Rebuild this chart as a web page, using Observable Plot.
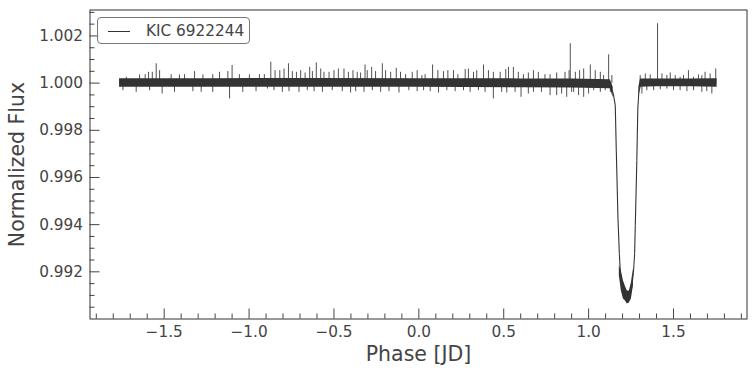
<!DOCTYPE html>
<html><head><meta charset="utf-8">
<script src="https://cdn.jsdelivr.net/npm/d3@7"></script>
<script src="https://cdn.jsdelivr.net/npm/@observablehq/plot@0.6"></script>
<style>
body{margin:0;background:#fff;}
#wrap{position:relative;width:756px;height:374px;font-family:"DejaVu Sans",sans-serif;}
#legend{position:absolute;left:97px;top:17px;width:153px;height:27px;box-sizing:border-box;border:1px solid #777;border-radius:4px;background:rgba(255,255,255,0.85);}
#legend .ln{position:absolute;left:10px;top:13px;width:22px;height:0;border-top:1px solid #333;}
#legend .tx{position:absolute;left:48px;top:4px;font-size:15.3px;color:#444;line-height:normal;white-space:nowrap;}
</style></head>
<body><div id="wrap"><div id="chart"></div><div id="legend"><div class="ln"></div><div class="tx" id="legtext"></div></div></div>
<script>
// ---- data ----
const seriesLabel = "KIC 6922244";
const xLabel = "Phase [JD]";
const yLabel = "Normalized Flux";

// dense noise core out of eclipse (two segments)
const bandSeg   = ["a","a","a","a","a","a","a","a", "b","b","b","b","b"];
const bandPhase = [-1.763,-1.2,-0.6,0.0,0.6,0.9,1.128,1.145, 1.296,1.305,1.4,1.6,1.757];
const bandHi    = [1.00019,1.00019,1.00020,1.00019,1.00018,1.00017,1.00014,0.99982, 0.99982,1.00018,1.00018,1.00018,1.00019];
const bandLo    = [0.99982,0.99982,0.99983,0.99982,0.99980,0.99979,0.99976,0.99938, 0.99938,0.99983,0.99985,0.99985,0.99983];

// eclipse centre line
const eclPhase = [1.098,1.128,1.145,1.157,1.163,1.173,1.181,1.187,1.199,1.216,1.228,1.240,1.252,1.264,1.271,1.275,1.284,1.290,1.296,1.305,1.334];
const eclFlux  = [1.0000,0.99987,0.99957,0.99906,0.99715,0.99426,0.99277,0.99196,0.99140,0.99098,0.99077,0.99085,0.99128,0.99196,0.99277,0.99396,0.99672,0.99894,0.99962,0.99991,1.0000];

// eclipse bottom scatter
const btmPhase = [1.181,1.193,1.205,1.216,1.228,1.240,1.252,1.264];
const btmHi    = [0.99226,0.99204,0.99162,0.99140,0.99119,0.99119,0.99153,0.99213];
const btmLo    = [0.99183,0.99119,0.99085,0.99077,0.99064,0.99068,0.99085,0.99140];

// individual spikes (phase, tip flux)
const spikePhase = [
-1.723,-1.645,-1.612,-1.592,-1.570,-1.547,-1.527,-1.459,-1.410,-1.380,-1.321,-1.272,-1.214,-1.174,-1.125,-1.100,-1.057,-0.998,-0.939,-0.910,
-0.872,-0.847,-0.819,-0.794,-0.768,-0.745,-0.721,-0.696,-0.670,-0.643,-0.627,-0.604,-0.578,-0.559,-0.529,-0.500,-0.474,-0.441,-0.415,-0.388,
-0.363,-0.343,-0.317,-0.304,-0.278,-0.255,-0.215,-0.196,-0.166,-0.133,-0.108,-0.078,-0.039,-0.010,
0.018,0.037,0.081,0.112,0.145,0.171,0.204,0.230,0.273,0.292,0.322,0.341,0.381,0.410,0.439,0.479,0.512,0.528,0.557,0.586,0.616,0.645,0.675,0.704,
0.743,0.773,0.812,0.861,0.885,0.892,0.922,0.947,0.971,1.010,1.039,1.069,1.088,1.118,1.137,
1.304,1.334,1.363,1.406,1.432,1.461,1.481,1.510,1.539,1.559,1.588,1.618,1.647,1.667,1.686,1.716,1.749,
-1.743,-1.665,-1.586,-1.512,-1.439,-1.331,-1.282,-1.214,-1.115,-1.037,-0.959,-0.892,-0.853,-0.804,-0.765,-0.706,-0.657,-0.617,-0.568,-0.510,
-0.451,-0.402,-0.372,-0.323,-0.274,-0.225,-0.176,-0.117,-0.059,-0.010,0.028,0.067,0.116,0.165,0.214,0.263,0.302,0.351,0.390,0.439,
0.488,0.518,0.567,0.602,0.645,0.675,0.722,0.773,0.812,0.841,0.871,0.900,0.912,0.941,0.971,1.000,1.030,1.069,1.098,1.128,
1.314,1.343,1.383,1.422,1.461,1.500,1.539,1.579,1.618,1.667,1.696,1.726];
const spikeFlux = [
1.00027,1.00037,1.00038,1.00048,1.00048,1.00084,1.00055,1.00038,1.00037,1.00038,1.00051,1.00037,1.00038,1.00048,1.00051,1.00077,1.00038,1.00037,1.00038,1.00038,
1.00091,1.00055,1.00055,1.00062,1.00084,1.00051,1.00048,1.00055,1.00045,1.00069,1.00051,1.00088,1.00062,1.00048,1.00048,1.00055,1.00062,1.00062,1.00048,1.00055,
1.00048,1.00045,1.00079,1.00055,1.00069,1.00051,1.00084,1.00055,1.00048,1.00065,1.00048,1.00038,1.00048,1.00055,
1.00034,1.00038,1.00079,1.00055,1.00051,1.00055,1.00055,1.00038,1.00060,1.00062,1.00048,1.00055,1.00079,1.00055,1.00048,1.00048,1.00060,1.00069,1.00069,1.00048,1.00038,1.00045,1.00055,1.00048,
1.00038,1.00038,1.00045,1.00048,1.00055,1.00169,1.00048,1.00055,1.00062,1.00079,1.00055,1.00048,1.00034,1.00122,1.00034,
1.00034,1.00041,1.00037,1.00254,1.00041,1.00034,1.00045,1.00034,1.00027,1.00034,1.00055,1.00027,1.00037,1.00034,1.00048,1.00041,1.00062,
0.99970,0.99963,0.99970,0.99956,0.99963,0.99966,0.99963,0.99963,0.99935,0.99963,0.99966,0.99977,0.99970,0.99963,0.99966,0.99963,0.99970,0.99966,0.99963,0.99970,
0.99966,0.99960,0.99966,0.99963,0.99970,0.99963,0.99966,0.99960,0.99970,0.99966,0.99970,0.99966,0.99960,0.99970,0.99966,0.99970,0.99963,0.99970,0.99963,0.99935,
0.99963,0.99960,0.99963,0.99942,0.99956,0.99963,0.99963,0.99949,0.99949,0.99956,0.99942,0.99963,0.99963,0.99949,0.99942,0.99956,0.99970,0.99963,0.99970,0.99963,
0.99956,0.99970,0.99970,0.99974,0.99977,0.99970,0.99970,0.99966,0.99970,0.99963,0.99966,0.99956];

// axes
const xTicks = [-1.5,-1.0,-0.5,0.0,0.5,1.0,1.5];
const yTicks = [0.992,0.994,0.996,0.998,1.000,1.002];
const xDomain = [-1.937, 1.933];
const yDomain = [0.99, 1.0031];

// ---- build tables ----
const bandRows = bandPhase.map((p,i)=>({phase:p, hi:bandHi[i], lo:bandLo[i], seg:bandSeg[i]}));
const eclRows = eclPhase.map((p,i)=>({phase:p, flux:eclFlux[i]}));
const eclSegs = eclPhase.slice(1).map((p,i)=>({x1: eclPhase[i], y1: eclFlux[i], x2: p, y2: eclFlux[i+1]}));
const btmRows = btmPhase.map((p,i)=>({phase:p, hi:btmHi[i], lo:btmLo[i]}));
const spikeRows = spikePhase.map((p,i)=>({phase:p, flux:spikeFlux[i], base:1.0}));
const xMinor = d3.range(-19,20).map(k=>k/10).filter(v=>!xTicks.some(t=>Math.abs(t-v)<1e-9));
const yMinor = d3.range(1981,2007).map(k=>k/2000).filter(v=>!yTicks.some(t=>Math.abs(t-v)<1e-9));

const W = 756, H = 374, mL = 89.5, mR = 9.5, mT = 9.5, mB = 55.5;
const frameW = W - mL - mR, frameH = H - mT - mB;
const ink = "#333", tickInk = "#444";

const chart = Plot.plot({
  width: W, height: H,
  marginLeft: mL, marginRight: mR, marginTop: mT, marginBottom: mB,
  x: {domain: xDomain},
  y: {domain: yDomain},
  style: {fontFamily: "'DejaVu Sans', sans-serif", color: "#444", background: "#fff"},
  marks: [
    // axes and frame first
    Plot.tickX(xTicks, {x: d=>d, insetTop: frameH - 10, stroke: tickInk}),
    Plot.tickX(xMinor, {x: d=>d, insetTop: frameH - 5, stroke: tickInk}),
    Plot.tickY(yTicks, {y: d=>d, insetRight: frameW - 10, stroke: tickInk}),
    Plot.tickY(yMinor, {y: d=>d, insetRight: frameW - 5, stroke: tickInk}),
    Plot.axisX({ticks: xTicks, tickSize: 0, tickPadding: 7, tickFormat: d3.format(".1f"), label: null, fontSize: 15.3}),
    Plot.axisY({ticks: yTicks, tickSize: 0, tickPadding: 7, tickFormat: d3.format(".3f"), label: null, fontSize: 15.3}),
    Plot.text([xLabel], {text: d=>d, frameAnchor: "bottom", lineAnchor: "middle", textAnchor: "middle", dy: 35, fontSize: 20.5, fill: "#444"}),
    Plot.text([yLabel], {text: d=>d, frameAnchor: "left", lineAnchor: "middle", textAnchor: "middle", dx: -73, rotate: -90, fontSize: 20.5, fill: "#444"}),
    Plot.frame({stroke: "#333", strokeWidth: 1}),
    // data
    Plot.link(spikeRows, {x1: "phase", x2: "phase", y1: "base", y2: "flux", stroke: ink, strokeWidth: 1, strokeOpacity: 0.85}),
    Plot.line(eclRows, {x: "phase", y: "flux", fill: "#fff", stroke: "none"}),
    Plot.areaY(bandRows, {x: "phase", y1: "lo", y2: "hi", z: "seg", fill: ink}),
    Plot.areaY(btmRows, {x: "phase", y1: "lo", y2: "hi", fill: ink}),
    Plot.link(eclSegs, {x1: "x1", y1: "y1", x2: "x2", y2: "y2", stroke: ink, strokeWidth: 1.1})
  ]
});
document.getElementById("chart").appendChild(chart);
document.getElementById("legtext").textContent = seriesLabel;
</script>
</body></html>
